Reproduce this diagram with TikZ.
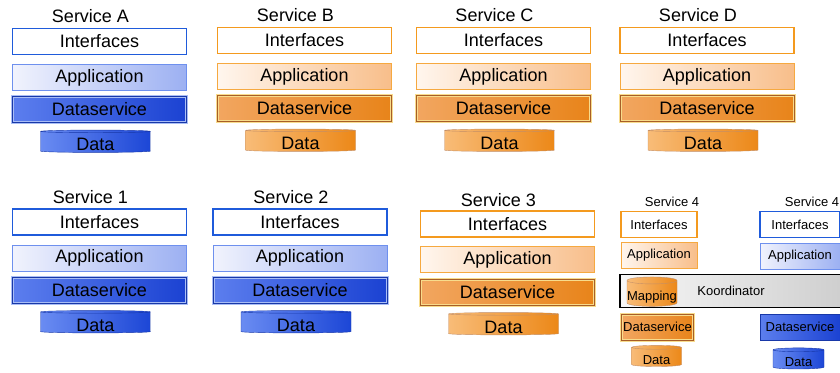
\documentclass[tikz,border=0pt]{standalone}
\usepackage{fontspec}
\setmainfont{Liberation Sans}
\usetikzlibrary{shapes}

\definecolor{lineblue}{HTML}{1F5BDB}
\definecolor{lineorange}{HTML}{F49A1E}
\definecolor{appblueL}{HTML}{F1F3FD}
\definecolor{appblueR}{HTML}{9CB0F2}
\definecolor{appblueline}{HTML}{6E90EE}
\definecolor{apporangeL}{HTML}{FFF6EE}
\definecolor{apporangeR}{HTML}{F8BE8A}
\definecolor{dsblueL}{HTML}{5C7EEE}
\definecolor{dsblueR}{HTML}{1B42D2}
\definecolor{dsblueline}{HTML}{1838A8}
\definecolor{glowblue}{HTML}{A9BDF5}
\definecolor{dsorangeL}{HTML}{F2A660}
\definecolor{dsorangeR}{HTML}{E8841A}
\definecolor{dsorangeline}{HTML}{A85E28}
\definecolor{gloworange}{HTML}{F8DC8C}
\definecolor{datablueL}{HTML}{6A8CF2}
\definecolor{datablueR}{HTML}{1C46D6}
\definecolor{dataorangeL}{HTML}{F8BC78}
\definecolor{dataorangeR}{HTML}{EC8818}

\tikzstyle{title} = [inner sep=0pt, font=\fontsize{18}{20}\selectfont]
\tikzstyle{smalltitle} = [inner sep=0pt, font=\fontsize{13}{15}\selectfont]
\tikzstyle{layer} = [rectangle, minimum width=174pt, minimum height=26pt,
    inner sep=0pt, font=\fontsize{18}{20}\selectfont]
\tikzstyle{small} = [minimum width=76pt, font=\fontsize{13}{15}\selectfont]
\tikzstyle{ifb} = [layer, draw=lineblue, line width=1.7pt, fill=white]
\tikzstyle{ifo} = [layer, draw=lineorange, line width=1.7pt, fill=white]
\tikzstyle{appb} = [layer, draw=appblueline, line width=0.8pt,
    left color=appblueL, right color=appblueR]
\tikzstyle{appo} = [layer, draw=lineorange!85, line width=0.8pt,
    left color=apporangeL, right color=apporangeR]
\tikzstyle{dsb} = [layer, draw=glowblue, double=dsblueline, double distance=0.8pt,
    line width=1.1pt, left color=dsblueL, right color=dsblueR]
\tikzstyle{dso} = [layer, draw=gloworange, double=dsorangeline, double distance=0.8pt,
    line width=1.1pt, left color=dsorangeL, right color=dsorangeR]
\tikzstyle{dsplain} = [layer, draw=dsblueline, line width=0.8pt,
    left color=dsblueL, right color=dsblueR]
\tikzstyle{datab} = [cylinder, shape border rotate=90, aspect=0.07, draw=dsblueline,
    line width=0.4pt, left color=datablueL, right color=datablueR,
    minimum width=110pt, minimum height=20pt, inner sep=0pt, text height=18pt,
    font=\fontsize{18}{20}\selectfont]
\tikzstyle{datao} = [cylinder, shape border rotate=90, aspect=0.07, draw=dsorangeline!70,
    line width=0.4pt, left color=dataorangeL, right color=dataorangeR,
    minimum width=110pt, minimum height=20pt, inner sep=0pt, text height=18pt,
    font=\fontsize{18}{20}\selectfont]
\tikzstyle{smalldata} = [minimum width=50pt, minimum height=20pt, aspect=0.14,
    text height=15pt, font=\fontsize{13}{15}\selectfont]
\tikzstyle{koord} = [rectangle, draw=black, line width=1.2pt, left color=gray!6,
    right color=gray!38, minimum width=222pt, minimum height=33pt, inner sep=0pt,
    font=\fontsize{13}{15}\selectfont]

\begin{document}
\begin{tikzpicture}[x=1pt, y=-1pt, node distance=32pt]
    \useasboundingbox (0,0) rectangle (840,372);

    % Service A
    \node [ifb] (ifA) at (99.5,41.5) {Interfaces};
    \node [title, above of=ifA, node distance=25pt, xshift=-9pt] (tA) {Service A};
    \node [appb, below of=ifA, node distance=36pt] (appA) {Application};
    \node [dsb, below of=appA] (dsA) {Dataservice};
    \node [datab, below of=dsA, node distance=32.5pt, xshift=-4pt] (dataA) {Data};

    % Service B
    \node [ifo] (ifB) at (304.5,40.5) {Interfaces};
    \node [title, above of=ifB, node distance=25pt, xshift=-9pt] (tB) {Service B};
    \node [appo, below of=ifB, node distance=36pt] (appB) {Application};
    \node [dso, below of=appB] (dsB) {Dataservice};
    \node [datao, below of=dsB, node distance=32.5pt, xshift=-4pt] (dataB) {Data};

    % Service C
    \node [ifo] (ifC) at (503.5,40.5) {Interfaces};
    \node [title, above of=ifC, node distance=25pt, xshift=-9pt] (tC) {Service C};
    \node [appo, below of=ifC, node distance=36pt] (appC) {Application};
    \node [dso, below of=appC] (dsC) {Dataservice};
    \node [datao, below of=dsC, node distance=32.5pt, xshift=-4pt] (dataC) {Data};

    % Service D
    \node [ifo] (ifD) at (707,40.5) {Interfaces};
    \node [title, above of=ifD, node distance=25pt, xshift=-9pt] (tD) {Service D};
    \node [appo, below of=ifD, node distance=36pt] (appD) {Application};
    \node [dso, below of=appD] (dsD) {Dataservice};
    \node [datao, below of=dsD, node distance=32.5pt, xshift=-4pt] (dataD) {Data};

    % Service 1
    \node [ifb] (if1) at (99.5,222) {Interfaces};
    \node [title, above of=if1, node distance=25pt, xshift=-9pt] (t1) {Service 1};
    \node [appb, below of=if1, node distance=36pt] (app1) {Application};
    \node [dsb, below of=app1] (ds1) {Dataservice};
    \node [datab, below of=ds1, node distance=32.5pt, xshift=-4pt] (data1) {Data};

    % Service 2
    \node [ifb] (if2) at (300,222) {Interfaces};
    \node [title, above of=if2, node distance=25pt, xshift=-9pt] (t2) {Service 2};
    \node [appb, below of=if2, node distance=36pt] (app2) {Application};
    \node [dsb, below of=app2] (ds2) {Dataservice};
    \node [datab, below of=ds2, node distance=32.5pt, xshift=-4pt] (data2) {Data};

    % Service 3
    \node [ifo] (if3) at (507.5,224) {Interfaces};
    \node [title, above of=if3, node distance=24pt, xshift=-9pt] (t3) {Service 3};
    \node [appo, below of=if3, node distance=35.5pt] (app3) {Application};
    \node [dso, below of=app3, node distance=32.5pt] (ds3) {Dataservice};
    \node [datao, below of=ds3, node distance=32.5pt, xshift=-4pt] (data3) {Data};

    % Service 4, orange side
    \node [smalltitle] (t4a) at (672,202) {Service 4};
    \node [ifo, small] (if4a) at (659,224.5) {Interfaces};
    \node [appo, small, below of=if4a, node distance=31pt] (app4a) {Application};

    % Koordinator with mapping
    \node [koord] (koord) at (731,291) {Koordinator};
    \node [datao, smalldata, minimum height=19pt, text height=16pt] (map) at (652,293.5) {Mapping};

    \node [dso, small, minimum width=72pt] (ds4a) at (657.5,327) {Dataservice};
    \node [datao, smalldata] (data4a) at (656.5,357) {Data};

    % Service 4, blue side
    \node [smalltitle] (t4b) at (812,202) {Service 4};
    \node [ifb, small, minimum width=80pt] (if4b) at (800,224.5) {Interfaces};
    \node [appb, small, minimum width=80pt, below of=if4b, node distance=31.5pt] (app4b) {Application};
    \node [dsplain, small, minimum width=80pt] (ds4b) at (800,327) {Dataservice};
    \node [datab, smalldata, minimum width=51pt] (data4b) at (798.5,359.5) {Data};

\end{tikzpicture}
\end{document}
